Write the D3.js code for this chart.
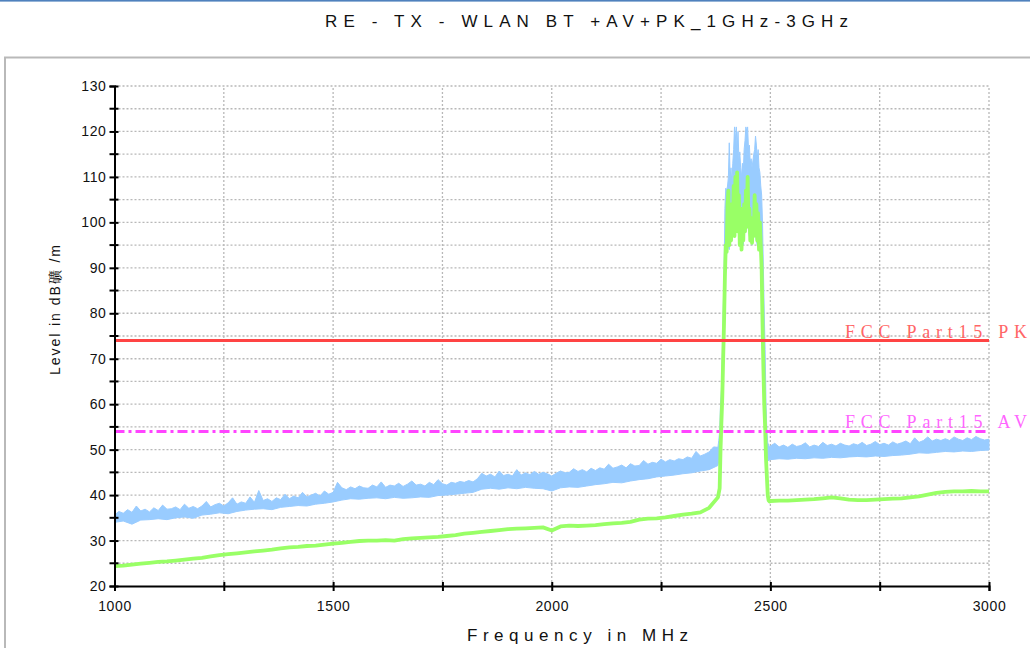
<!DOCTYPE html>
<html><head><meta charset="utf-8">
<script src="https://cdn.jsdelivr.net/npm/d3@7"></script>
<style>
body{margin:0;background:#fff;}
svg{display:block;}
text{font-family:"Liberation Sans",Arial,sans-serif;}
</style>
</head><body>
<svg id="c" width="1030" height="648"></svg>
<script>
// ---------- DATA ----------
const chartTitle = "RE - TX - WLAN BT +AV+PK_1GHz-3GHz";
const xTitle = "Frequency in MHz";
const yTitle = "Level in dB礦 /m";
const yMajorTicks = [20,30,40,50,60,70,80,90,100,110,120,130];
const yMinorTicks = [25,35,45,55,65,75,85,95,105,115,125];
const xTicks = [1000,1250,1500,1750,2000,2250,2500,2750,3000];
const xTickLabels = ["1000","","1500","","2000","","2500","","3000"];
const limitNames = ["FCC Part15 PK","FCC Part15 AV"];
const limitValues = [74, 54];

// Peak trace (blue) – upper edge, 10 MHz steps 1000..2370
const pkHiFreqA = d3.range(1000, 2371, 10);
const pkHiA = [
 35.6,36.4,36.0,36.8,36.2,37.6,36.5,36.9,36.3,37.2,
 36.6,37.8,36.9,37.0,37.4,36.8,38.0,37.1,37.5,37.0,
 37.6,38.6,37.4,37.9,38.2,37.6,38.3,39.4,38.0,38.5,
 38.2,39.6,38.4,41.0,38.8,39.2,38.6,39.4,39.0,40.2,
 39.2,39.8,39.4,40.6,39.6,40.0,40.4,39.8,40.9,40.2,
 40.6,42.8,41.6,41.2,41.8,41.4,42.0,41.6,41.5,42.2,
 41.8,42.9,41.7,42.2,42.0,42.6,41.9,42.4,43.1,42.2,
 42.4,42.0,42.8,42.3,43.4,42.5,42.2,42.8,42.6,43.0,
 42.8,43.2,42.9,43.6,44.8,44.2,44.6,44.0,45.3,44.3,
 44.6,44.2,45.6,44.4,44.9,44.5,45.2,44.6,45.0,44.7,
 44.2,44.8,45.3,44.9,45.0,45.8,45.2,45.6,45.1,45.9,
 45.4,46.0,45.7,46.8,45.9,46.2,46.6,46.0,46.9,46.4,
 46.5,47.6,46.8,47.2,47.0,47.9,47.3,47.8,47.5,48.0,
 47.8,48.4,48.1,49.6,48.6,49.0,49.5,50.6
];
// Peak trace – upper edge, 10 MHz steps 2500..3000
const pkHiFreqC = d3.range(2500, 3001, 10);
const pkHiC = [
 50.8,51.4,50.6,51.0,50.5,51.2,50.7,50.9,51.5,50.6,
 51.0,50.7,51.6,50.9,51.2,50.8,51.4,51.0,50.8,51.3,
 51.0,51.6,50.9,51.2,51.8,51.1,51.4,51.0,51.7,51.2,
 51.5,51.9,51.3,52.6,51.6,52.0,52.8,51.9,52.3,52.0,
 52.4,52.0,52.8,52.3,52.0,52.6,52.2,52.9,52.4,52.1,
 52.3
];
// Peak trace – lower edge, 20 MHz steps
const loFreqA = d3.range(1000, 2361, 20);
const pkLoA = [
 34.0,34.3,33.6,34.5,34.6,34.8,34.6,35.0,35.2,34.9,
 35.6,35.8,36.1,35.9,36.4,36.7,36.9,37.0,36.8,37.3,
 37.5,37.7,37.6,38.0,38.2,38.5,38.9,39.2,39.1,39.3,
 39.4,39.2,39.5,39.3,39.4,39.6,39.5,39.9,40.0,40.2,
 40.4,40.6,41.3,41.5,41.3,41.6,41.4,41.7,41.5,41.4,
 40.9,41.6,41.8,41.7,42.0,42.3,42.5,42.8,42.7,43.1,
 43.4,43.6,44.0,44.2,44.4,44.7,44.9,45.3,45.6
];
const loFreqC = d3.range(2500, 3001, 20);
const pkLoC = [
 47.8,48.0,47.9,48.1,48.0,48.2,48.1,48.3,48.2,48.4,
 48.5,48.4,48.6,48.5,48.7,48.8,49.0,49.3,49.2,49.4,
 49.6,49.5,49.7,49.6,49.8,49.9
];
// Average trace (green), 20 MHz steps
const avA = [
 24.4,24.5,24.7,24.9,25.1,25.3,25.4,25.6,25.8,26.0,
 26.2,26.5,26.8,27.0,27.2,27.4,27.6,27.8,28.0,28.3,
 28.5,28.6,28.8,28.9,29.1,29.3,29.5,29.7,29.9,30.0,
 30.0,30.1,30.0,30.3,30.5,30.6,30.7,30.8,31.0,31.2,
 31.5,31.7,31.9,32.1,32.3,32.5,32.6,32.7,32.8,32.9,
 32.2,33.1,33.3,33.2,33.3,33.4,33.6,33.8,33.9,34.1,
 34.6,34.8,34.9,35.1,35.4,35.7,35.9,36.2,37.2
];
const avC = [
 38.7,38.8,38.8,38.9,39.0,39.1,39.3,39.5,39.3,39.0,
 38.9,38.9,39.0,39.1,39.2,39.3,39.5,39.7,40.1,40.5,
 40.7,40.8,40.8,40.9,40.8,40.8
];
// Band region 2380..2498 MHz, 2 MHz steps
const peakFreq = d3.range(2380, 2499, 2);
const peakPkHi = [
 50.5,52,54,60,63,70,80,88,103,107.5,
 107,108,110,117.5,110,112,108,113,116,121,
 118,121,116,120,114,115.5,112,110,113,111,
 116,118,121,120,121,116,117,113,114,112,
 113.5,115,116,119,117,114,116,112,111,108,
 106,100,90,80,72,60,54,51.5,51,50.5
];
const peakPkLo = [
 46.5,47.5,49,52,58,64,72,82,90,93,
 93,94,95,94,96,97,96,97,98,100,
 99,100,98,99,97,96,95,94,96,95,
 97,98,100,99,101,98,97,96,96,95,
 96,97,98,97,96,95,95,94,94,93,
 92,85,72,65,58,52,49,48,47.5,47.8
];
const peakAv = [
 39.5,40.5,41.5,50,56,61.5,70,78,88,95,
 93.5,104,107,95,101,96,104,99,108,97,
 110,101,111,98,106,95,103,94,100,96,
 104,98,107,101,110,99,103,96,101,95.5,
 100,97,106,99,104,96,102,94,100,95,
 90,78,68,60,55,48,44,40,38.8,38.6
];

// ---------- CHART ----------
const svg = d3.select('#c');
const x = d3.scaleLinear().domain([1000, 3000]).range([114.5, 989]);
const y = d3.scaleLinear().domain([20, 130]).range([586, 86]);

svg.append('rect').attr('x',0).attr('y',0).attr('width',1030).attr('height',1.6).attr('fill','#4f81bd');
svg.append('rect').attr('x',5).attr('y',57.5).attr('width',1040).attr('height',620)
  .attr('fill','#fff').attr('stroke','#b9b9b9').attr('stroke-width',2);

svg.append('text').attr('x',586.5).attr('y',27).attr('text-anchor','middle')
  .attr('font-size',17).attr('fill','#111').attr('textLength',523).attr('lengthAdjust','spacing')
  .text(chartTitle);

// grid
const grid = svg.append('g').attr('stroke','#b8b8b8').attr('stroke-width',1.3).attr('stroke-dasharray','2,2');
yMajorTicks.concat(yMinorTicks).filter(v => v > 20).forEach(v => {
  grid.append('line').attr('x1',x(1000)).attr('x2',x(3000)).attr('y1',y(v)).attr('y2',y(v));
});
xTicks.filter(v => v > 1000).forEach(v => {
  grid.append('line').attr('x1',x(v)).attr('x2',x(v)).attr('y1',y(20)).attr('y2',y(130));
});

// blue peak trace band
const upperEdge = pkHiFreqA.map((f,i)=>[f,pkHiA[i]])
  .concat(peakFreq.map((f,i)=>[f,peakPkHi[i]]))
  .concat(pkHiFreqC.map((f,i)=>[f,pkHiC[i]]));
const lowerEdge = loFreqA.map((f,i)=>[f,pkLoA[i]])
  .concat(peakFreq.map((f,i)=>[f,peakPkLo[i]]))
  .concat(loFreqC.map((f,i)=>[f,pkLoC[i]])).reverse();
const lineGen = d3.line().x(d=>x(d[0])).y(d=>y(d[1]));
svg.append('path').attr('d', lineGen(upperEdge.concat(lowerEdge)) + 'Z')
  .attr('fill','#99ccff').attr('stroke','#99ccff').attr('stroke-width',1).attr('stroke-linejoin','round');

// green average trace
const avPts = loFreqA.map((f,i)=>[f,avA[i]])
  .concat(peakFreq.map((f,i)=>[f,peakAv[i]]))
  .concat(loFreqC.map((f,i)=>[f,avC[i]]));
svg.append('path').attr('d', lineGen(avPts)).attr('fill','none')
  .attr('stroke','#99ff66').attr('stroke-width',3.8).attr('stroke-linejoin','round');

// limit lines
const limColors = ['#ff4444','#ff44ff'];
const limTextColors = ['#ff6666','#ff66ff'];
const limDash = [null,'10,4,3,4'];
limitValues.forEach((v,i)=>{
  svg.append('line').attr('x1',x(1000)).attr('x2',x(3000)).attr('y1',y(v)).attr('y2',y(v))
    .attr('stroke',limColors[i]).attr('stroke-width',3).attr('stroke-dasharray',limDash[i]);
  svg.append('text').attr('x',845).attr('y',y(v)-3).attr('fill',limTextColors[i])
    .style('font-family','"Liberation Serif","DejaVu Serif",serif').attr('font-size',18)
    .attr('textLength',182).attr('lengthAdjust','spacing').text(limitNames[i]);
});

// axes
const yAxis = svg.append('g').attr('transform',`translate(${x(1000)},0)`)
  .call(d3.axisLeft(y).tickValues(yMajorTicks).tickSize(5).tickPadding(3).tickFormat(d3.format('d')));
yAxis.selectAll('.tick').append('line').attr('x2',4);
yMinorTicks.forEach(v=>{
  yAxis.append('line').attr('x1',-5).attr('x2',4).attr('y1',y(v)).attr('y2',y(v));
});
const xAxis = svg.append('g').attr('transform',`translate(0,${y(20)})`)
  .call(d3.axisBottom(x).tickValues(xTicks).tickSize(5).tickPadding(10).tickFormat((d,i)=>xTickLabels[i]));
xAxis.selectAll('.tick').append('line').attr('y2',-4);
[yAxis, xAxis].forEach(g=>{
  g.select('.domain').attr('stroke','#000').attr('stroke-width',2);
  g.selectAll('line').attr('stroke','#000').attr('stroke-width',2);
  g.selectAll('text').attr('font-size',14).attr('fill','#111').style('letter-spacing','0.6px')
    .style('font-family','"Liberation Sans",Arial,sans-serif');
});

svg.append('text').attr('x',577.5).attr('y',641).attr('text-anchor','middle')
  .attr('font-size',17).attr('fill','#111').attr('textLength',221).attr('lengthAdjust','spacing')
  .text(xTitle);
svg.append('text').attr('transform','translate(60,310) rotate(-90)').attr('text-anchor','middle')
  .attr('font-size',14).attr('fill','#111').attr('textLength',130).attr('lengthAdjust','spacing')
  .text(yTitle);
</script>
</body></html>
